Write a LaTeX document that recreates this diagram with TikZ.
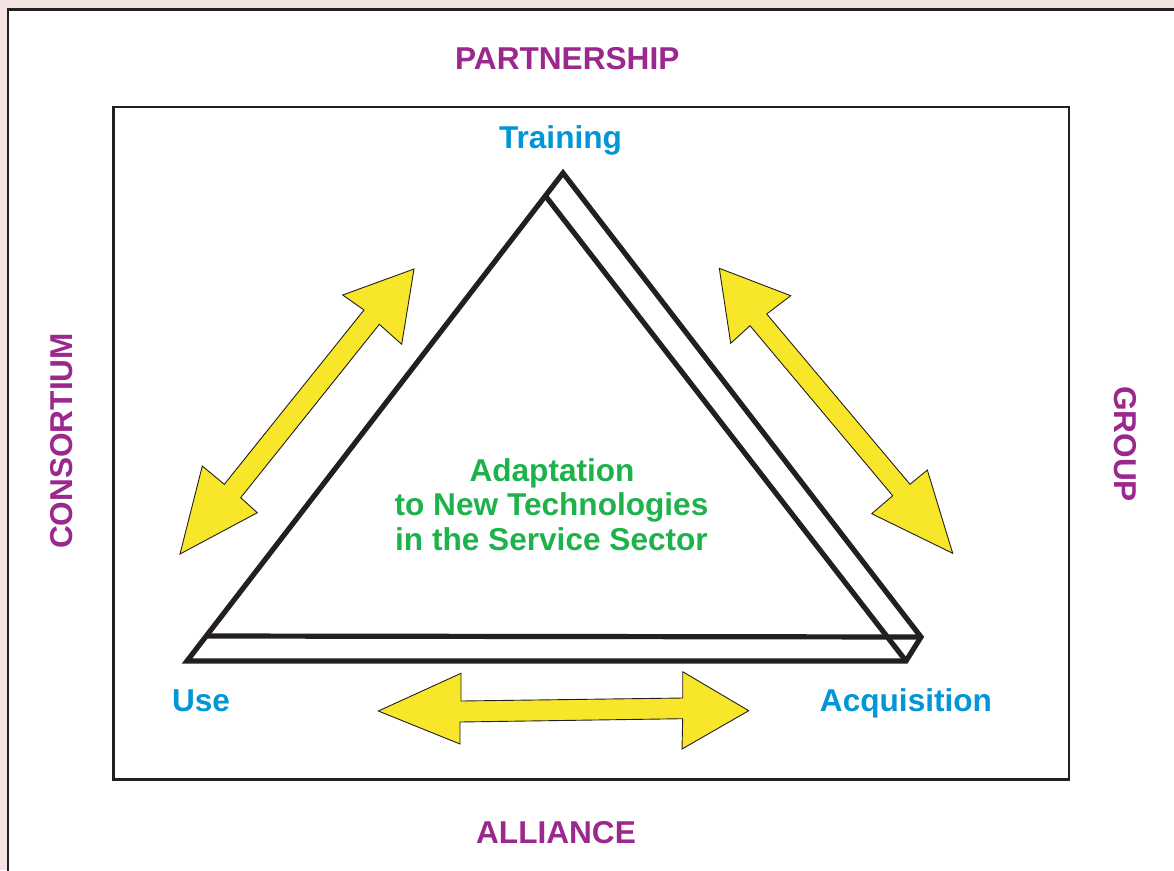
\documentclass[tikz,border=0pt]{standalone}
\usepackage{fontspec}
\setmainfont{Liberation Sans}
\definecolor{bgpink}{RGB}{243,227,227}
\definecolor{linecol}{RGB}{35,31,32}
\definecolor{purp}{RGB}{155,40,140}
\definecolor{bluet}{RGB}{0,150,215}
\definecolor{greent}{RGB}{30,178,75}
\definecolor{yell}{RGB}{248,230,42}
\tikzset{
  lbl/.style={font=\fontsize{31.6}{35}\selectfont\bfseries, anchor=base, inner sep=0pt},
  frameline/.style={draw=linecol, line width=2.6pt},
  triline/.style={draw=linecol, line width=5.2pt, line join=miter, miter limit=10},
  yarrow/.style={fill=yell, draw=linecol, line width=0.9pt, line join=miter}
}
\begin{document}
\begin{tikzpicture}[x=1pt,y=-1pt]
\useasboundingbox (0,0) rectangle (1174,870);
\fill[bgpink] (0,0) rectangle (1174,870);
\begin{scope}
  \clip (0,0) rectangle (1174,870);
  \draw[frameline, fill=white] (8,9.5) rectangle (1190,890);
\end{scope}
% inner rectangle
\draw[frameline] (113.5,107) rectangle (1069,779.3);

% triangle (prism)
\coordinate (A) at (563,173);
\coordinate (B) at (187,661);
\coordinate (C) at (906,661);
\coordinate (D) at (921,637);
\coordinate (E) at (545.5,196);
\coordinate (F) at (206,636);
\draw[triline] (B) -- (A) -- (D) -- (C) -- cycle;
\draw[triline] (E) -- (C);
\draw[triline] (F) -- (D);

% yellow double arrows
\draw[yarrow] (414,269) -- (342.7,295) -- (364,310) -- (224.3,484.3) -- (202.3,466)
  -- (180,554) -- (257.3,512.7) -- (240.7,497.7) -- (379.3,324.3) -- (401.7,344.3) -- cycle;
\draw[yarrow] (719.3,268.3) -- (790.7,295.7) -- (766.7,314) -- (910,484.3) -- (927.3,470)
  -- (952.7,553.3) -- (871.7,513.7) -- (892.7,495.7) -- (750,325.7) -- (730.7,343.3) -- cycle;
\draw[yarrow] (378.3,711) -- (461,673.3) -- (461,701) -- (682.7,698) -- (682.7,671.7)
  -- (748.7,710.7) -- (682,749) -- (682.7,718.7) -- (460,722) -- (460,744) -- cycle;

% labels
\node[lbl, text=purp] (partner) at (567.3,69) {PARTNERSHIP};
\node[lbl, text=purp] (alliance) at (556,843.5) {ALLIANCE};
\node[lbl, text=purp, rotate=90] (consort) at (72.5,441) {CONSORTIUM};
\node[lbl, text=purp, rotate=-90] (group) at (1114.5,444) {GROUP};
\node[lbl, text=bluet] (training) at (560.5,148.5) {Training};
\node[lbl, text=bluet] (use) at (201,711) {Use};
\node[lbl, text=bluet] (acq) at (906,711) {Acquisition};
\node[lbl, text=greent] (ad1) at (552,481) {Adaptation};
\node[lbl, text=greent] (ad2) at (551.5,515.5) {to New Technologies};
\node[lbl, text=greent] (ad3) at (551.5,550.3) {in the Service Sector};
\end{tikzpicture}
\end{document}
